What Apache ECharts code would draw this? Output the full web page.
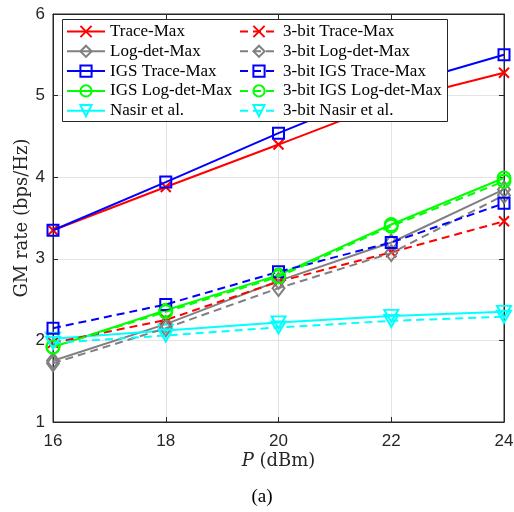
<!DOCTYPE html>
<html>
<head>
<meta charset="utf-8">
<script src="https://cdn.jsdelivr.net/npm/echarts@6/dist/echarts.min.js"></script>
<style>html,body{margin:0;padding:0;background:#fff}#c{width:514px;height:512px}</style>
</head>
<body>
<div id="c"></div>
<script>
const categories = [16, 18, 20, 22, 24];
const xTicks = [16, 18, 20, 22, 24];
const yTicks = [1, 2, 3, 4, 5, 6];
const traceMax = [3.35, 3.88, 4.40, 4.93, 5.28];
const logdetMax = [1.75, 2.20, 2.73, 3.20, 3.85];
const igsTraceMax = [3.35, 3.94, 4.54, 5.10, 5.50];
const igsLogdetMax = [1.92, 2.37, 2.80, 3.42, 3.99];
const nasir = [2.02, 2.12, 2.22, 2.30, 2.35];
const bit3TraceMax = [1.97, 2.25, 2.72, 3.08, 3.46];
const bit3LogdetMax = [1.72, 2.15, 2.64, 3.07, 3.78];
const bit3IgsTraceMax = [2.15, 2.44, 2.84, 3.20, 3.68];
const bit3IgsLogdetMax = [1.92, 2.35, 2.78, 3.40, 3.95];
const bit3Nasir = [1.97, 2.06, 2.16, 2.24, 2.29];

const names = ['Trace-Max','Log-det-Max','IGS Trace-Max','IGS Log-det-Max','Nasir et al.',
  '3-bit Trace-Max','3-bit Log-det-Max','3-bit IGS Trace-Max','3-bit IGS Log-det-Max','3-bit Nasir et al.'];
const values = [traceMax, logdetMax, igsTraceMax, igsLogdetMax, nasir,
  bit3TraceMax, bit3LogdetMax, bit3IgsTraceMax, bit3IgsLogdetMax, bit3Nasir];
const colors = ['#ff0000','#808080','#0000ff','#00ff00','#00ffff'];
const X = 'path://M0,0L10,10M10,0L0,10';
const symbols = [X, 'diamond', 'rect', 'circle', 'triangle'];
const sizes = [10, [12,16], 11, 13, [14,12]];
const rot = [0, 0, 0, 0, 180];

const series = names.map((n, i) => {
  const k = i % 5;
  const dashed = i >= 5;
  return {
    name: n, type: 'line',
    data: categories.map((c, j) => [c, values[i][j]]),
    symbol: symbols[k], symbolSize: sizes[k], symbolRotate: rot[k],
    showAllSymbol: true,
    lineStyle: {color: colors[k], width: 2, type: dashed ? [8, 5] : 'solid'},
    itemStyle: {color: 'rgba(0,0,0,0)', borderColor: colors[k], borderWidth: 2},
    z: 2 + i * 0.01,
    animation: false
  };
});

const serif = 'Liberation Serif';
const nameFont = 'DejaVu Serif';
const legendCommon = {
  orient: 'vertical', top: 23, padding: 0, itemWidth: 38, itemHeight: 14, itemGap: 2.8,
  textStyle: {fontFamily: serif, fontSize: 17, color: '#000'},
  selectedMode: false, z: 5
};

const chart = echarts.init(document.getElementById('c'), null, {renderer: 'canvas'});
chart.setOption({
  animation: false,
  grid: {left: 53, right: 10, top: 14, bottom: 90, show: true, borderColor: '#262626', borderWidth: 1,
    containLabel: false, outerBoundsMode: 'none'},
  xAxis: [{
    type: 'value', min: 16, max: 24, interval: 2,
    name: '{i|P} (dBm)', nameLocation: 'middle', nameGap: 30, nameMoveOverlap: false,
    nameTextStyle: {fontFamily: nameFont, fontSize: 18, color: '#262626',
      rich: {i: {fontFamily: nameFont, fontStyle: 'italic', fontSize: 18, color: '#262626'}}},
    axisLine: {lineStyle: {color: '#262626'}},
    axisTick: {inside: true, length: 5, lineStyle: {color: '#262626'}},
    axisLabel: {fontFamily: 'Liberation Sans', fontSize: 17, color: '#262626', margin: 11,
      formatter: v => xTicks.includes(v) ? String(v) : ''},
    splitLine: {show: true, lineStyle: {color: '#e3e3e3'}}
  }, {
    type: 'value', min: 16, max: 24, interval: 2, position: 'top',
    axisLine: {lineStyle: {color: '#262626'}},
    axisTick: {inside: true, length: 5, lineStyle: {color: '#262626'}},
    axisLabel: {show: false}, splitLine: {show: false}
  }],
  yAxis: [{
    type: 'value', min: 1, max: 6, interval: 1,
    name: 'GM rate (bps/Hz)', nameLocation: 'middle', nameGap: 22, nameMoveOverlap: false,
    nameTextStyle: {fontFamily: nameFont, fontSize: 18, color: '#262626'},
    axisLine: {show: true, lineStyle: {color: '#262626'}},
    axisTick: {show: true, inside: true, length: 5, lineStyle: {color: '#262626'}},
    axisLabel: {fontFamily: 'Liberation Sans', fontSize: 17, color: '#262626', margin: 8,
      formatter: v => yTicks.includes(v) ? String(v) : ''},
    splitLine: {show: true, lineStyle: {color: '#e3e3e3'}}
  }, {
    type: 'value', min: 1, max: 6, interval: 1, position: 'right',
    axisLine: {show: true, lineStyle: {color: '#262626'}},
    axisTick: {show: true, inside: true, length: 5, lineStyle: {color: '#262626'}},
    axisLabel: {show: false}, splitLine: {show: false}
  }],
  legend: [
    Object.assign({}, legendCommon, {left: 66, data: names.slice(0, 5)}),
    Object.assign({}, legendCommon, {left: 239, data: names.slice(5)})
  ],
  graphic: [
    {type: 'rect', shape: {x: 62.5, y: 19.5, width: 385, height: 102}, z: 4,
      style: {fill: '#fff', stroke: '#262626', lineWidth: 1}},
    {type: 'text', x: 262, y: 497, z: 5,
      style: {text: '(a)', fontFamily: serif, fontSize: 19, fill: '#000', align: 'center', verticalAlign: 'middle'}}
  ],
  series: series
});
</script>
</body>
</html>
